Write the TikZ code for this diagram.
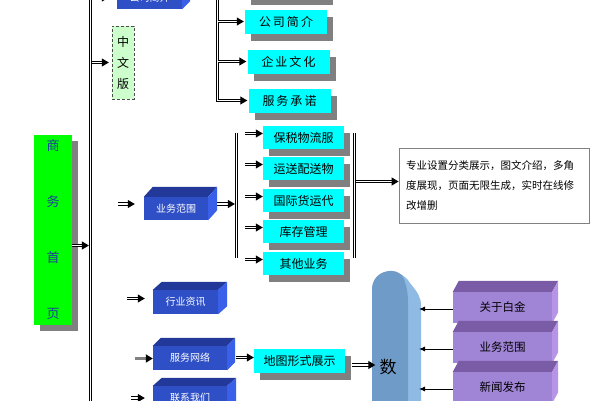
\documentclass[tikz,border=0pt]{standalone}
\usepackage{fontspec}
\newfontfamily\cjk{Noto Sans CJK SC}
\usetikzlibrary{arrows.meta,shadows}
\definecolor{greenc}{HTML}{00FF00}
\definecolor{navyc}{HTML}{1E3CA0}
\definecolor{cyanc}{HTML}{00FFFF}
\definecolor{shadowc}{HTML}{808080}
\definecolor{lgreen}{HTML}{CCFFCC}
\definecolor{bluef}{HTML}{2E4FC6}
\definecolor{bluet}{HTML}{22399A}
\definecolor{bluer}{HTML}{3A5FE8}
\definecolor{purf}{HTML}{A084D6}
\definecolor{purt}{HTML}{7A5CA6}
\definecolor{purr}{HTML}{B894E6}
\definecolor{dbdark}{HTML}{6F9BC8}
\definecolor{dblight}{HTML}{8EBAE4}
\newcommand{\cubefaces}[5]{%
  \fill[#4] (#1.north west) -- ++(#2,-#3) -- ([shift={(#2,-#3)}]#1.north east) -- (#1.north east) -- cycle;
  \fill[#5] (#1.north east) -- ++(#2,-#3) -- ([shift={(#2,-#3)}]#1.south east) -- (#1.south east) -- cycle;}
\begin{document}
\begin{tikzpicture}[x=1pt,y=-1pt,
  mline/.style={draw=black, double=white, double distance=1.2pt, line width=1pt},
  darrow/.style={mline, -{Triangle[length=7pt,width=8pt]}},
  tarrow/.style={draw=black, line width=0.9pt, -{Latex[length=6pt,width=5pt]}},
  grayarrow/.style={draw=shadowc, line width=3pt, -{Triangle[length=7pt,width=8pt,color=black]}},
  sh/.style={general shadow={fill=shadowc, shadow xshift=6pt, shadow yshift=-7pt}},
  cyanbox/.style={sh, fill=cyanc, minimum width=82pt, minimum height=24pt, inner sep=0pt,
    font=\cjk\fontsize{12}{12}\selectfont},
  bluebox/.style={fill=bluef, inner sep=0pt, text=white, font=\cjk\fontsize{10}{10}\selectfont},
  purbox/.style={fill=purf, inner sep=0pt, minimum width=99pt, minimum height=31pt,
    font=\cjk\fontsize{11.5}{11.5}\selectfont},
  homebox/.style={general shadow={fill=shadowc, shadow xshift=6pt, shadow yshift=-6pt},
    fill=greenc, minimum width=38pt, minimum height=190pt, inner sep=0pt, align=center,
    text=navyc, font=\cjk\fontsize{13}{56}\selectfont},
  zwbox/.style={fill=lgreen, draw=black!70, densely dashed, minimum width=22pt, minimum height=73pt,
    inner sep=0pt, align=center, font=\cjk\fontsize{12}{21}\selectfont},
  textbox/.style={draw=shadowc, line width=0.8pt, minimum width=190pt, minimum height=75pt,
    inner xsep=7pt, align=left, text width=176pt, font=\cjk\fontsize{10.5}{20}\selectfont}
]
\useasboundingbox (0,0) rectangle (600,400);
\clip (0,0) rectangle (600,400);

% main vertical line
\coordinate (mt) at (90.5,-6);
\coordinate (mb) at (90.5,406);
\draw[mline] (mt) -- (mb);

% home box
\node[homebox] (home) at (53,230) {商\\务\\首\\页};
\draw[darrow, shorten >=1.6pt] ([yshift=-15.5pt]home.east) -- ([yshift=-15.5pt]home.east -| mt);

% chinese version box
\node[zwbox] (zw) at (123,62.5) {中\\文\\版};
\draw[darrow, shorten <=1.6pt, shorten >=3pt] (zw.west -| mt) -- (zw.west);

% top blue box
\node[bluebox, minimum width=65pt, minimum height=23pt] (gs) at (149.5,-2.5) {公司简介};
\cubefaces{gs}{8}{8}{bluet}{bluer}
\draw[darrow] ([xshift=-20pt]gs.west) -- ([xshift=-8pt]gs.west);

% top cyan group
\coordinate (t1) at (217.5,-6);
\node[cyanbox] (c0) at (286,-14) {};
\node[cyanbox] (c1) at (286,21.5) {公\kern2pt 司\kern2pt 简\kern2pt 介};
\node[cyanbox] (c2) at (288.5,61.5) {企\kern2pt 业\kern2pt 文\kern2pt 化};
\node[cyanbox] (c3) at (289.5,100.5) {服\kern2pt 务\kern2pt 承\kern2pt 诺};
\draw[darrow, shorten >=1pt] (t1) |- (c3.west);
\draw[darrow, shorten >=1pt] (c1.west -| t1) -- (c1.west);
\draw[darrow, shorten >=1pt] (c2.west -| t1) -- (c2.west);

% business scope
\node[bluebox, minimum width=64pt, minimum height=23pt] (yw) at (176,208.5) {业务范围};
\cubefaces{yw}{9}{10}{bluet}{bluer}
\draw[darrow] ([xshift=-26pt,yshift=4.5pt]yw.west) -- ([xshift=-9pt,yshift=4.5pt]yw.west);
\coordinate (v2t) at (236.5,133);
\coordinate (v2b) at (236.5,258);
\draw[mline] (v2t) -- (v2b);
\draw[darrow, shorten >=1.6pt] ([xshift=9pt,yshift=4.5pt]yw.east) -- ([yshift=4.5pt]yw.east -| v2t);

\node[cyanbox, minimum width=81pt, minimum height=23pt] (b1) at (303.5,137.5) {保税物流服};
\node[cyanbox, minimum width=81pt, minimum height=23pt] (b2) at (303.5,168.5) {运送配送物};
\node[cyanbox, minimum width=81pt, minimum height=23pt] (b3) at (303.5,200.5) {国际货运代};
\node[cyanbox, minimum width=81pt, minimum height=23pt] (b4) at (303.5,231.5) {库存管理};
\node[cyanbox, minimum width=81pt, minimum height=23pt] (b5) at (303.5,263.5) {其他业务};
\foreach \b in {b1,b2,b3,b4,b5}
  \draw[darrow] ([xshift=-18pt,yshift=4pt]\b.west) -- ([yshift=4pt]\b.west);

\coordinate (v3t) at (354.5,133);
\coordinate (v3b) at (354.5,258);
\draw[mline] (v3t) -- (v3b);

\node[textbox] (tb) at (494,185.5) {专业设置分类展示，图文介绍，多角\\度展现，页面无限生成，实时在线修\\改增删};
\draw[darrow, shorten <=1.6pt] ([yshift=4pt]tb.west -| v3t) -- ([yshift=4pt]tb.west);

% industry info
\node[bluebox, minimum width=65pt, minimum height=24pt] (hy) at (185.5,302) {行业资讯};
\cubefaces{hy}{9}{8}{bluet}{bluer}
\draw[darrow] ([xshift=-26pt,yshift=3.5pt]hy.west) -- ([xshift=-8pt,yshift=3.5pt]hy.west);

% service network
\node[bluebox, minimum width=74pt, minimum height=24pt] (fw) at (190,358) {服务网络};
\cubefaces{fw}{8}{8}{bluet}{bluer}
\draw[grayarrow] ([xshift=-18pt,yshift=-0.5pt]fw.west) -- ([yshift=-0.5pt]fw.west);
\node[cyanbox, minimum width=91pt, minimum height=24pt] (mp) at (299.5,361) {地图形式展示};
\draw[darrow] ([xshift=9pt,yshift=0.5pt]fw.east) -- ([yshift=3.5pt]mp.west);

% contact
\node[bluebox, minimum width=74pt, minimum height=24pt] (lx) at (190,398) {联系我们};
\cubefaces{lx}{9}{8}{bluet}{bluer}
\draw[darrow] ([xshift=-22pt]lx.west) -- ([xshift=-8pt]lx.west);

% database
\fill[dblight] (372,410) -- (372,290) .. controls (372,268) and (400,266) .. (410,283)
  .. controls (417,292) and (421,296) .. (421,306) -- (421,410) -- cycle;
\fill[dbdark] (372,410) -- (372,290) .. controls (372,268) and (400,266) .. (404,279)
  .. controls (407,288) and (408,294) .. (408,302) -- (408,410) -- cycle;
\node[inner sep=0pt, font=\cjk\fontsize{17}{17}\selectfont] (db) at (388,367) {数};
\coordinate (dbr) at (419,300);
\draw[darrow, shorten >=4pt] ([xshift=7pt,yshift=2pt]mp.east |- db.west) -- ([yshift=2pt]db.west);

% purple boxes
\node[purbox] (p1) at (502.5,307.5) {关于白金};
\cubefaces{p1}{6}{11}{purt}{purr}
\node[purbox] (p2) at (502.5,347.5) {业务范围};
\cubefaces{p2}{6}{11}{purt}{purr}
\node[purbox] (p3) at (502.5,387.5) {新闻发布};
\cubefaces{p3}{6}{11}{purt}{purr}
\foreach \p in {p1,p2,p3}
  \draw[tarrow] ([yshift=-1.5pt]\p.west) -- ([yshift=-1.5pt]\p.west -| dbr);
\end{tikzpicture}
\end{document}
